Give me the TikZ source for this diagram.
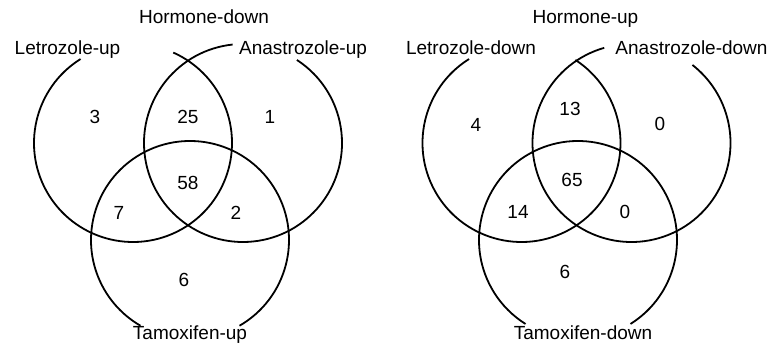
\documentclass[tikz,border=0pt]{standalone}
\usepackage{fontspec}
\setmainfont{Liberation Sans}
\usepackage{tikz}

\tikzset{
  ring/.style={line width=1.8pt},
  setname/.style={anchor=base, font=\fontsize{19}{22}\selectfont},
  count/.style={anchor=base, font=\fontsize{19}{22}\selectfont},
}

\begin{document}
\begin{tikzpicture}[x=1pt,y=1pt]
    \useasboundingbox (0,0) rectangle (781,353);
    % Left diagram: hormone-down
    \coordinate (lL) at (133,210);
    \coordinate (lR) at (243,210);
    \coordinate (lT) at (190,113);
    \draw[ring] (lL) ++(122:99) arc (122:426:99);
    \draw[ring] (lR) ++(96:99) arc (96:417:99);
    \draw[ring] (lT) ++(-60:99) arc (-60:240:99);
    \node[setname] (lhead) at (204,329) {Hormone-down};
    \node[setname] (llet) at (67.5,298) {Letrozole-up};
    \node[setname] (lana) at (303,298) {Anastrozole-up};
    \node[setname] (ltam) at (190,13) {Tamoxifen-up};
    \node[count] (l100) at (95,229) {3};
    \node[count] (l110) at (188,229) {25};
    \node[count] (l010) at (270,229) {1};
    \node[count] (l111) at (188,163) {58};
    \node[count] (l101) at (119,133) {7};
    \node[count] (l011) at (236,133) {2};
    \node[count] (l001) at (184,66) {6};
    % Right diagram: hormone-up
    \coordinate (rL) at (521.5,210);
    \coordinate (rR) at (631.5,210);
    \coordinate (rT) at (578,113);
    \draw[ring] (rL) ++(122:99) arc (122:417:99);
    \draw[ring] (rR) ++(106:99) arc (106:412:99);
    \draw[ring] (rT) ++(-58:99) arc (-58:238:99);
    \node[setname] (rhead) at (585.5,329) {Hormone-up};
    \node[setname] (rlet) at (471,298) {Letrozole-down};
    \node[setname] (rana) at (691.5,298) {Anastrozole-down};
    \node[setname] (rtam) at (583,13) {Tamoxifen-down};
    \node[count] (r100) at (476,221) {4};
    \node[count] (r110) at (570,237) {13};
    \node[count] (r010) at (660,222) {0};
    \node[count] (r111) at (572,166) {65};
    \node[count] (r101) at (518,134) {14};
    \node[count] (r011) at (625,134) {0};
    \node[count] (r001) at (565,74) {6};
\end{tikzpicture}
\end{document}
